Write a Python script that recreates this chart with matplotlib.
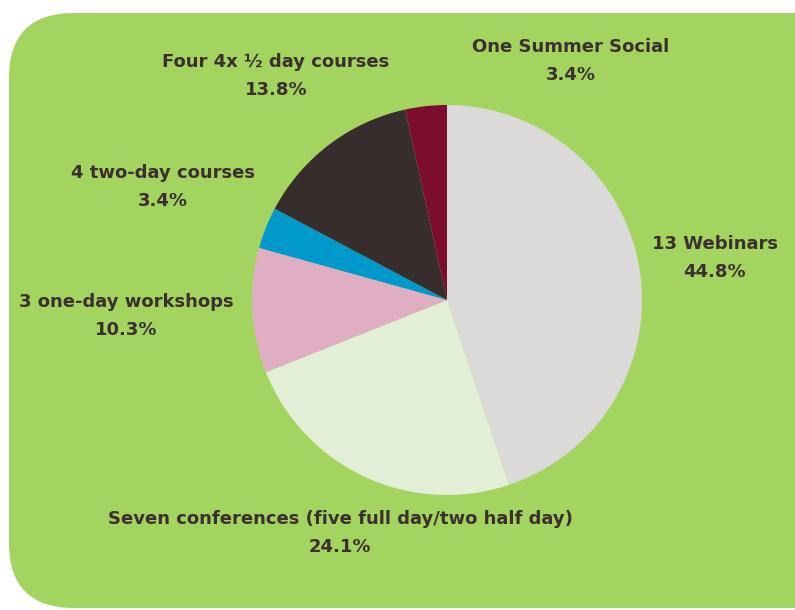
import matplotlib.pyplot as plt
from matplotlib.patches import FancyBboxPatch

# sessions per type (out of 29)
labels = ["13 Webinars", "Seven conferences (five full day/two half day)",
          "3 one-day workshops", "4 two-day courses",
          "Four 4x \u00bd day courses", "One Summer Social"]
counts = [13, 7, 3, 1, 4, 1]
pct_text = ["44.8%", "24.1%", "10.3%", "3.4%", "13.8%", "3.4%"]
colors = ["#dcd9d9", "#e2efd6", "#dfaec2", "#0099cc", "#372d2d", "#7c0d2f"]

# label centres in pixels (x, y of first line)
lab_pos = [(715, 244), (340, 519), (126, 302), (163, 173), (276, 62), (571, 47)]

W, H = 795, 610
cx, cy, R = 447, 300, 195
txt_col = "#3b2f2f"

fig = plt.figure(figsize=(W / 100, H / 100), dpi=100)
fig.patch.set_facecolor("white")

bg = FancyBboxPatch((9, H - 608), 900, 595, boxstyle="round,pad=0,rounding_size=65",
                    transform=None, facecolor="#a3d45f", edgecolor="none", zorder=-5)
fig.patches.append(bg)

ax = fig.add_axes([0, 0, 1, 1], zorder=2)
ax.set_facecolor("none")
ax.pie(counts, colors=colors, startangle=90, counterclock=False,
       wedgeprops=dict(linewidth=0))
ax.set_xlim(-cx / R, (W - cx) / R)
ax.set_ylim(-(H - cy) / R, cy / R)
ax.set_aspect("equal")
ax.axis("off")

for lab, p, (x, y) in zip(labels, pct_text, lab_pos):
    fig.text(x / W, 1 - y / H, lab, ha="center", va="center", fontsize=13,
             fontweight="bold", color=txt_col, zorder=5)
    fig.text(x / W, 1 - (y + 28) / H, p, ha="center", va="center", fontsize=13,
             fontweight="bold", color=txt_col, zorder=5)

fig.savefig("out.png", dpi=100)
